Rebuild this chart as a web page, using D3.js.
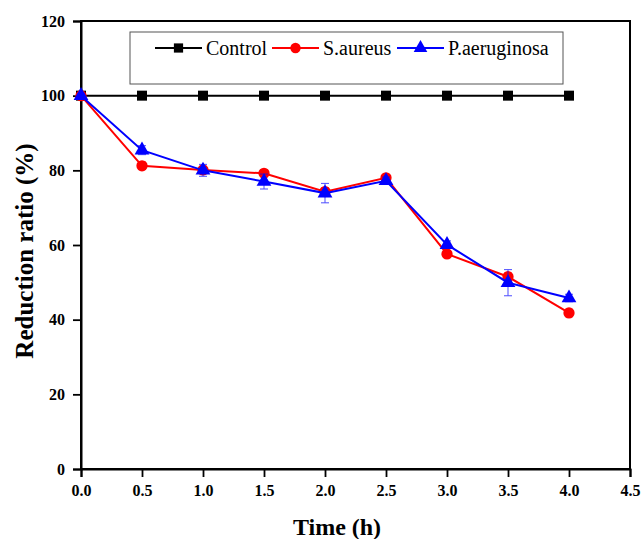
<!DOCTYPE html>
<html>
<head>
<meta charset="utf-8">
<script src="https://cdn.jsdelivr.net/npm/d3@7"></script>
<style>
    body { margin: 0; background: #fff; }
    svg { display: block; }
</style>
</head>
<body>
<svg id="chart"></svg>
<script>
// Data
const times = [0, 0.5, 1.0, 1.5, 2.0, 2.5, 3.0, 3.5, 4.0];
const controlVals = [100, 100, 100, 100, 100, 100, 100, 100, 100];
const aureusVals = [100, 81.2, 80.1, 79.2, 74.3, 78.0, 57.6, 51.5, 41.8];
const aureusErr = [0.5, 1, 1, 0.8, 1, 0.8, 0.8, 1, 1];
const aeruginosaVals = [100, 85.4, 80.0, 77.0, 73.9, 77.2, 60.1, 49.9, 45.8];
const aeruginosaErr = [0.5, 1.2, 1.6, 2, 2.6, 1, 1, 3.5, 1];
const xTicks = [0, 0.5, 1.0, 1.5, 2.0, 2.5, 3.0, 3.5, 4.0, 4.5];
const yTicks = [0, 20, 40, 60, 80, 100, 120];
const seriesNames = ['Control', 'S.aureus', 'P.aeruginosa'];

(function() {

    const w = 644;
    const h = 539;
    const margin = {top: 21, right: 14, bottom: 70, left: 81};

    const svg = d3.select('#chart')
        .attr('width', w)
        .attr('height', h);

    // Scales
    const scaleX = d3.scaleLinear().domain([0, 4.5]).range([margin.left, w - margin.right]);
    const scaleY = d3.scaleLinear().domain([0, 120]).range([h - margin.bottom, margin.top]);

    const font = '"Liberation Serif", "Times New Roman", serif';

    // Frame
    svg.append('rect')
        .attr('x', scaleX(0))
        .attr('y', scaleY(120))
        .attr('width', scaleX(4.5) - scaleX(0))
        .attr('height', scaleY(0) - scaleY(120))
        .attr('fill', 'none')
        .attr('stroke', '#000')
        .attr('stroke-width', 2);

    // Axes
    const xAxis = d3.axisBottom(scaleX).tickValues(xTicks).tickFormat(d3.format('.1f')).tickSizeOuter(0).tickSize(8).tickPadding(8);
    const yAxis = d3.axisLeft(scaleY).tickValues(yTicks).tickFormat(d3.format('d')).tickSizeOuter(0).tickSize(8).tickPadding(8);

    const gx = svg.append('g')
        .attr('transform', `translate(0, ${scaleY(0)})`)
        .call(xAxis);
    const gy = svg.append('g')
        .attr('transform', `translate(${scaleX(0)}, 0)`)
        .call(yAxis);

    [gx, gy].forEach(g => {
        g.select('.domain').attr('stroke', '#000').attr('stroke-width', 2);
        g.selectAll('.tick line').attr('stroke', '#000').attr('stroke-width', 1.8);
        g.selectAll('.tick text')
            .attr('fill', '#000')
            .style('font-family', font)
            .style('font-weight', 'bold')
            .style('font-size', '16px');
    });

    // Axis titles
    svg.append('text')
        .attr('x', 337)
        .attr('y', 535)
        .attr('text-anchor', 'middle')
        .style('font-family', font)
        .style('font-weight', 'bold')
        .style('font-size', '24px')
        .text('Time (h)');

    svg.append('text')
        .attr('transform', `translate(33, 251) rotate(-90)`)
        .attr('text-anchor', 'middle')
        .style('font-family', font)
        .style('font-weight', 'bold')
        .style('font-size', '25px')
        .text('Reduction ratio (%)');

    const series = [
        {name: seriesNames[0], vals: controlVals, err: null, color: '#000', symbol: d3.symbolSquare, size: 100},
        {name: seriesNames[1], vals: aureusVals, err: aureusErr, color: '#ff0000', symbol: d3.symbolCircle, size: 100},
        {name: seriesNames[2], vals: aeruginosaVals, err: aeruginosaErr, color: '#0000ff', symbol: d3.symbolTriangle, size: 95}
    ];

    const line = d3.line()
        .x(d => scaleX(d[0]))
        .y(d => scaleY(d[1]));

    series.forEach(s => {
        const pts = times.map((t, i) => [t, s.vals[i], s.err ? s.err[i] : 0]);
        const g = svg.append('g');

        // Error bars
        if (s.err) {
            const eb = g.selectAll('.eb').data(pts).enter().append('g').attr('stroke', s.color).attr('stroke-width', 1).attr('opacity', 0.7);
            eb.append('line')
                .attr('x1', d => scaleX(d[0])).attr('x2', d => scaleX(d[0]))
                .attr('y1', d => scaleY(d[1] - d[2])).attr('y2', d => scaleY(d[1] + d[2]));
            eb.append('line')
                .attr('x1', d => scaleX(d[0]) - 4).attr('x2', d => scaleX(d[0]) + 4)
                .attr('y1', d => scaleY(d[1] - d[2])).attr('y2', d => scaleY(d[1] - d[2]));
            eb.append('line')
                .attr('x1', d => scaleX(d[0]) - 4).attr('x2', d => scaleX(d[0]) + 4)
                .attr('y1', d => scaleY(d[1] + d[2])).attr('y2', d => scaleY(d[1] + d[2]));
        }

        g.append('path')
            .datum(pts)
            .attr('d', line)
            .attr('fill', 'none')
            .attr('stroke', s.color)
            .attr('stroke-width', 2);

        g.selectAll('.pt').data(pts).enter().append('path')
            .attr('transform', d => `translate(${scaleX(d[0])}, ${scaleY(d[1])})`)
            .attr('d', d3.symbol().type(s.symbol).size(s.size))
            .attr('fill', s.color);
    });

    // Legend
    const legend = svg.append('g');
    legend.append('rect')
        .attr('x', 130).attr('y', 32)
        .attr('width', 433).attr('height', 52)
        .attr('fill', '#fff')
        .attr('stroke', '#555')
        .attr('stroke-width', 1);

    const legendX = [155, 272, 397];
    series.forEach((s, i) => {
        const lx = legendX[i];
        const ly = 48;
        legend.append('line')
            .attr('x1', lx).attr('x2', lx + 47)
            .attr('y1', ly).attr('y2', ly)
            .attr('stroke', s.color).attr('stroke-width', 2);
        legend.append('path')
            .attr('transform', `translate(${lx + 23.5}, ${ly})`)
            .attr('d', d3.symbol().type(s.symbol).size(s.size * 0.85))
            .attr('fill', s.color);
        legend.append('text')
            .attr('x', lx + 51)
            .attr('y', ly + 7)
            .style('font-family', font)
            .style('font-size', '20px')
            .text(s.name);
    });

})();
</script>
</body>
</html>
